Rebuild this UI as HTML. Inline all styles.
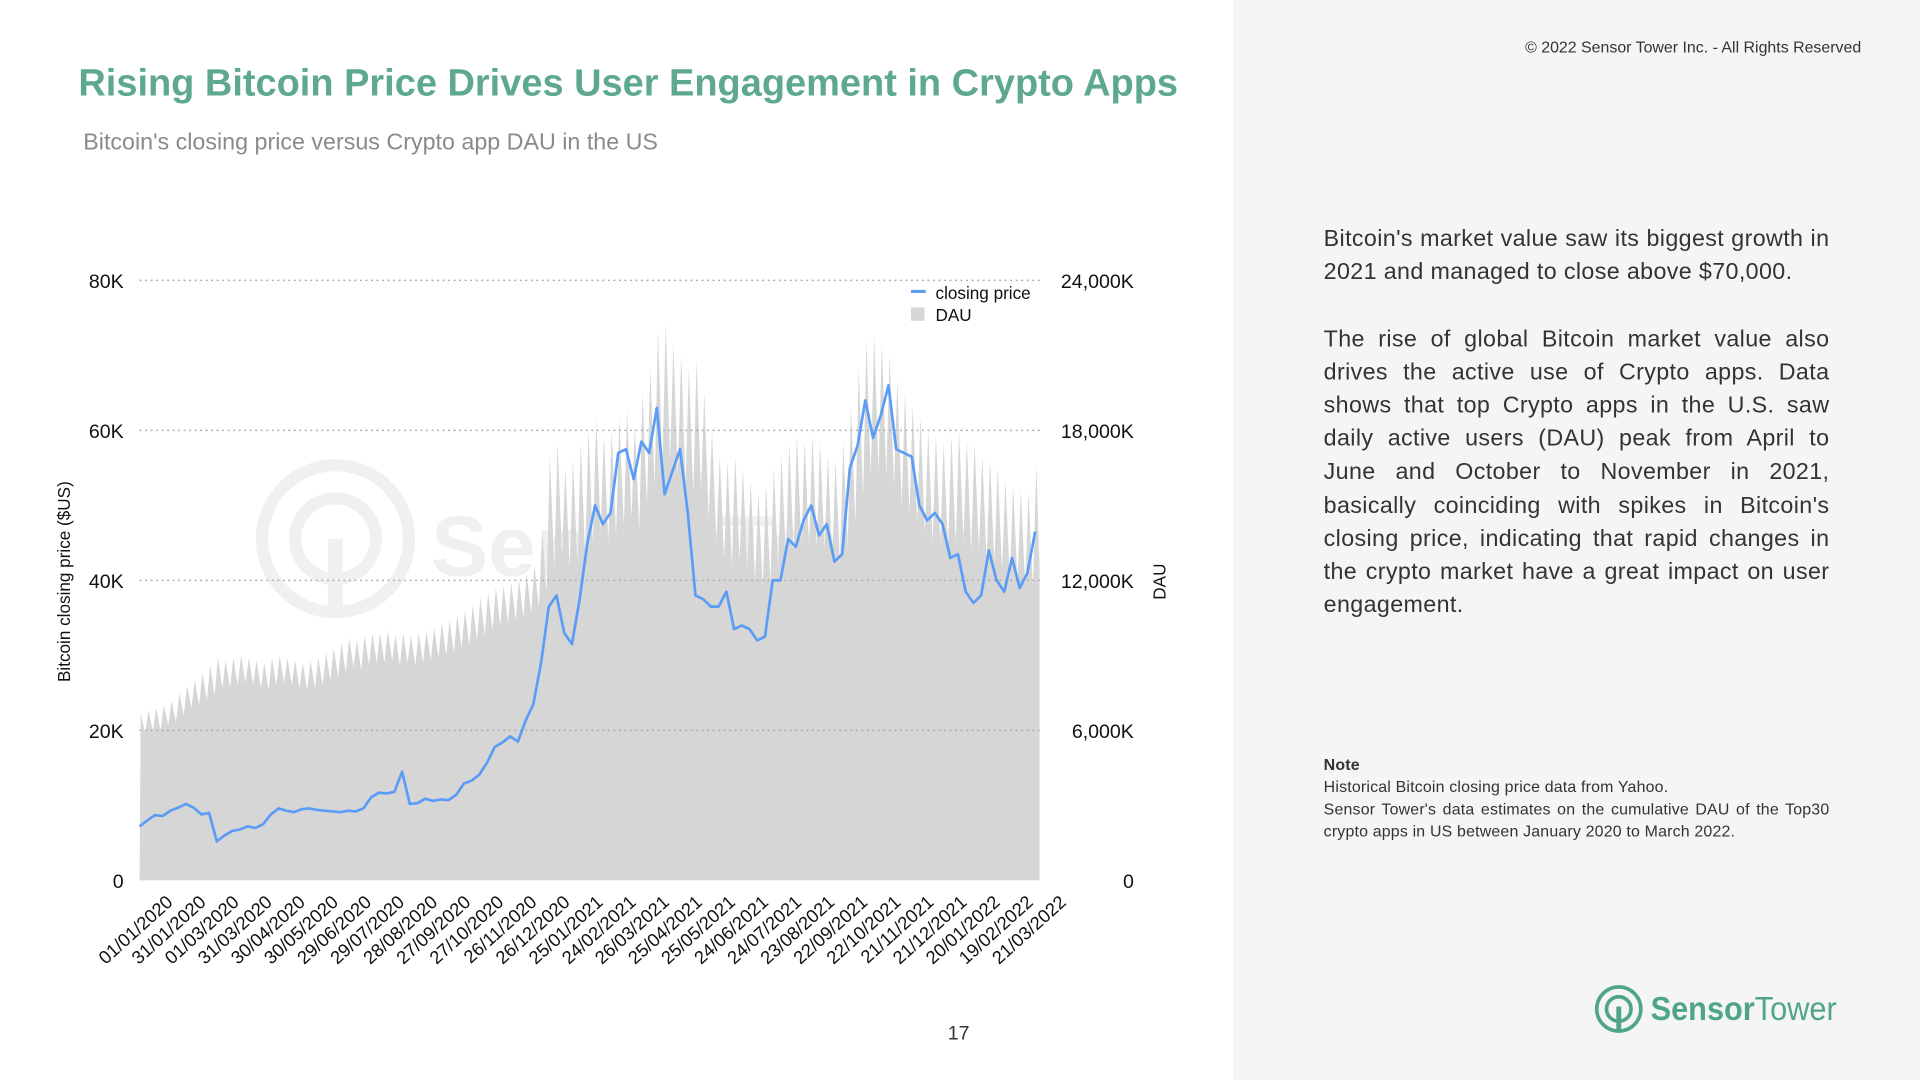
<!DOCTYPE html>
<html><head><meta charset="utf-8">
<style>
html,body{margin:0;padding:0;width:1920px;height:1080px;overflow:hidden;background:#fff;font-family:"Liberation Sans",Arial,sans-serif;}
#stage{position:absolute;left:0;top:0;width:1568px;height:882px;transform:scale(1.22449);transform-origin:0 0;}
.abs{position:absolute;}
#side{left:1007px;top:0;width:561px;height:882px;background:#f5f5f5;}
#title{left:64px;top:50px;font-size:31px;font-weight:bold;color:#5ea98e;white-space:nowrap;}
#subtitle{left:68px;top:106px;font-size:19px;color:#8a8a8a;}
#copy{left:1180px;top:31px;width:340px;text-align:right;font-size:13px;color:#333;}
#para{left:1081px;top:182px;width:413px;font-size:19px;line-height:27.2px;color:#333;text-align:justify;letter-spacing:0.3px;}
#note{left:1081px;top:616px;width:413px;font-size:13px;line-height:18px;color:#333;text-align:justify;letter-spacing:0.15px;}
#pnum{left:774px;top:836px;font-size:16px;color:#333;}
#logo{left:1300px;top:802px;}
</style></head><body>
<div id="stage">
<div id="side" class="abs"></div>
<div id="title" class="abs">Rising Bitcoin Price Drives User Engagement in Crypto Apps</div>
<div id="subtitle" class="abs">Bitcoin's closing price versus Crypto app DAU in the US</div>
<div id="copy" class="abs">© 2022 Sensor Tower Inc. - All Rights Reserved</div>
<div id="para" class="abs">Bitcoin's market value saw its biggest growth in 2021 and managed to close above $70,000.<br><br>The rise of global Bitcoin market value also drives the active use of Crypto apps. Data shows that top Crypto apps in the U.S. saw daily active users (DAU) peak from April to June and October to November in 2021, basically coinciding with spikes in Bitcoin's closing price, indicating that rapid changes in the crypto market have a great impact on user engagement.</div>
<div id="note" class="abs"><b>Note</b><br>Historical Bitcoin closing price data from Yahoo.<br>Sensor Tower's data estimates on the cumulative DAU of the Top30 crypto apps in US between January 2020 to March 2022.</div>
<div id="pnum" class="abs">17</div>
<svg id="logo" class="abs" width="230" height="44">
<circle cx="22" cy="22" r="18" fill="none" stroke="#4fa58a" stroke-width="3"/>
<circle cx="22" cy="22" r="10" fill="none" stroke="#4fa58a" stroke-width="3"/>
<rect x="20" y="20" width="4" height="20" fill="#4fa58a"/>
<text x="48" y="31" font-size="27" font-weight="bold" fill="#4fa58a" textLength="152" lengthAdjust="spacingAndGlyphs" font-family="Liberation Sans, sans-serif">Sensor<tspan font-weight="normal">Tower</tspan></text>
</svg>
<svg id="chart" class="abs" style="left:0;top:0" width="1007" height="882"></svg>
</div>
<script>
const priceK=[7.2,8.0,8.7,8.6,9.3,9.7,10.2,9.7,8.8,9.0,5.2,6.0,6.6,6.8,7.2,7.0,7.5,8.8,9.6,9.3,9.1,9.5,9.6,9.4,9.3,9.2,9.1,9.3,9.2,9.6,11.1,11.7,11.6,11.8,14.5,10.2,10.3,10.9,10.6,10.8,10.7,11.4,12.9,13.3,14.1,15.7,17.8,18.4,19.2,18.5,21.3,23.5,29.0,36.5,38.0,33.0,31.5,37.5,45.0,50.0,47.5,49.0,57.0,57.5,53.5,58.5,57.0,63.0,51.5,54.5,57.5,49.0,38.0,37.5,36.5,36.5,38.5,33.5,34.0,33.5,32.0,32.5,40.0,40.0,45.5,44.5,48.0,50.0,46.0,47.5,42.5,43.5,55.0,58.0,64.0,59.0,62.0,66.0,57.5,57.0,56.5,50.0,48.0,49.0,47.5,43.0,43.5,38.5,37.0,38.0,44.0,40.0,38.5,43.0,39.0,41.0,46.5];
const dauPeakK=[6700,6800,6900,7000,7200,7500,7800,8000,8300,8600,8900,8800,8900,9000,8900,8800,8700,8900,9000,8900,8800,8700,8800,8900,9100,9300,9500,9700,9600,9800,9900,9900,10000,9800,9900,9800,9900,10000,10100,10300,10400,10600,10800,11000,11300,11500,11700,11800,11900,12000,12300,12600,14000,17000,17500,16500,16800,17500,18000,18500,17800,18000,18500,18800,18200,19500,20500,22000,22300,21500,21000,20500,20800,19500,18000,17000,16800,17000,16500,16000,15500,15800,16500,17000,17500,17800,17600,17800,17500,17000,16800,17500,19000,20500,21600,21800,21500,21000,20000,19500,19000,18500,18000,17800,17500,17800,18000,17600,17500,17000,16800,16500,16000,15800,15600,15500,16600];
const dauTroughK=[5900,6000,6000,6200,6300,6600,6900,7000,7200,7400,7700,7700,7800,7900,7800,7700,7600,7800,7900,7800,7700,7600,7700,7800,8000,8100,8300,8500,8400,8600,8700,8700,8800,8600,8700,8600,8700,8800,8900,9000,9100,9300,9400,9600,9800,10000,10200,10300,10400,10500,10700,10900,11500,12500,13000,12500,12600,13000,13500,14000,13500,13800,14200,14500,14000,15000,15800,16500,16800,16200,15800,15500,15600,14500,13500,12800,12600,12800,12400,12000,11700,11900,12400,12800,13200,13400,13300,13400,13200,12800,12700,13200,14300,15400,16200,16400,16200,15800,15000,14700,14300,13900,13500,13400,13200,13400,13500,13200,13200,12800,12700,12400,12000,11900,11800,11700,12500];
const xLabels=["01/01/2020","31/01/2020","01/03/2020","31/03/2020","30/04/2020","30/05/2020","29/06/2020","29/07/2020","28/08/2020","27/09/2020","27/10/2020","26/11/2020","26/12/2020","25/01/2021","24/02/2021","26/03/2021","25/04/2021","25/05/2021","24/06/2021","24/07/2021","23/08/2021","22/09/2021","22/10/2021","21/11/2021","21/12/2021","20/01/2022","19/02/2022","21/03/2022"];
const leftTicks=[0,20,40,60,80];
const leftTickLabels=["0","20K","40K","60K","80K"];
const rightTickLabels=["0","6,000K","12,000K","18,000K","24,000K"];

const NS="http://www.w3.org/2000/svg";
const svg=document.getElementById('chart');
const X0=114,X1=849,Y0=719,Y1=229,DAYS=816;
const xs=d=>X0+(d/DAYS)*(X1-X0);
const yL=v=>Y0-(v/80)*(Y0-Y1);
const yR=v=>Y0-(v/24000)*(Y0-Y1);
function mk(tag,attrs,parent){const e=document.createElementNS(NS,tag);for(const k in attrs)e.setAttribute(k,attrs[k]);(parent||svg).appendChild(e);return e;}

const wm=mk('g',{});


mk('circle',{cx:274,cy:440,r:60,fill:'none',stroke:'#f0f0f0','stroke-width':10},wm);
mk('circle',{cx:274,cy:440,r:33,fill:'none',stroke:'#f0f0f0','stroke-width':10},wm);
mk('rect',{x:268,y:440,width:12,height:62,fill:'#f0f0f0'},wm);
const wt=mk('text',{x:352,y:470,'font-size':70,'font-weight':'bold',fill:'#f0f0f0','font-family':'Liberation Sans, sans-serif'},wm);
wt.textContent='SensorTower';

let pts=[];
for(let i=0;i<dauPeakK.length;i++){
  pts.push(xs(i*7+1)+','+yR(dauPeakK[i]));
  pts.push(xs(Math.min(i*7+5,DAYS))+','+yR(dauTroughK[i]));
}
const area=mk('polygon',{points:xs(0)+','+Y0+' '+pts.join(' ')+' '+xs(DAYS)+','+Y0,fill:'#d6d6d6'});



for(let i=1;i<leftTicks.length;i++){
  const g=mk('line',{x1:X0,x2:X1,y1:yL(leftTicks[i]),y2:yL(leftTicks[i]),stroke:'#aaa','stroke-width':1.2,'stroke-dasharray':'1.5,3'});
  
  
}
for(let i=0;i<leftTicks.length;i++){
  const t=mk('text',{x:101,y:yL(leftTicks[i])+6,'text-anchor':'end','font-size':16,fill:'#111'});
  
  
  t.textContent=leftTickLabels[i];
  const r=mk('text',{x:926,y:yL(leftTicks[i])+6,'text-anchor':'end','font-size':16,fill:'#111'});
  
  
  r.textContent=rightTickLabels[i];
}

const lp=priceK.map((v,i)=>xs(i*7)+','+yL(v)).join(' ');
const line=mk('polyline',{points:lp,fill:'none',stroke:'#5b9cf6','stroke-width':2.2,'stroke-linejoin':'round'});



xLabels.forEach((l,i)=>{
  const x=xs(i*30)+28;
  const t=mk('text',{x:x,y:738,'text-anchor':'end','font-size':15,fill:'#111',transform:`rotate(-42 ${x} 738)`});
  
  
  t.textContent=l;
});

const at=mk('text',{x:0,y:0,'font-size':14,fill:'#111','text-anchor':'middle',transform:'translate(57 475) rotate(-90)'});


at.textContent='Bitcoin closing price ($US)';
const ar=mk('text',{x:0,y:0,'font-size':14,fill:'#111','text-anchor':'middle',transform:'translate(952 475) rotate(-90)'});


ar.textContent='DAU';

const lg=mk('g',{});


mk('line',{x1:744,x2:756,y1:238,y2:238,stroke:'#5b9cf6','stroke-width':2.5},lg);
const l1=mk('text',{x:764,y:244,'font-size':14,fill:'#111'},lg);l1.textContent='closing price';
mk('rect',{x:744,y:251,width:11,height:11,fill:'#d6d6d6'},lg);
const l2=mk('text',{x:764,y:262,'font-size':14,fill:'#111'},lg);l2.textContent='DAU';
</script>
</body></html>
